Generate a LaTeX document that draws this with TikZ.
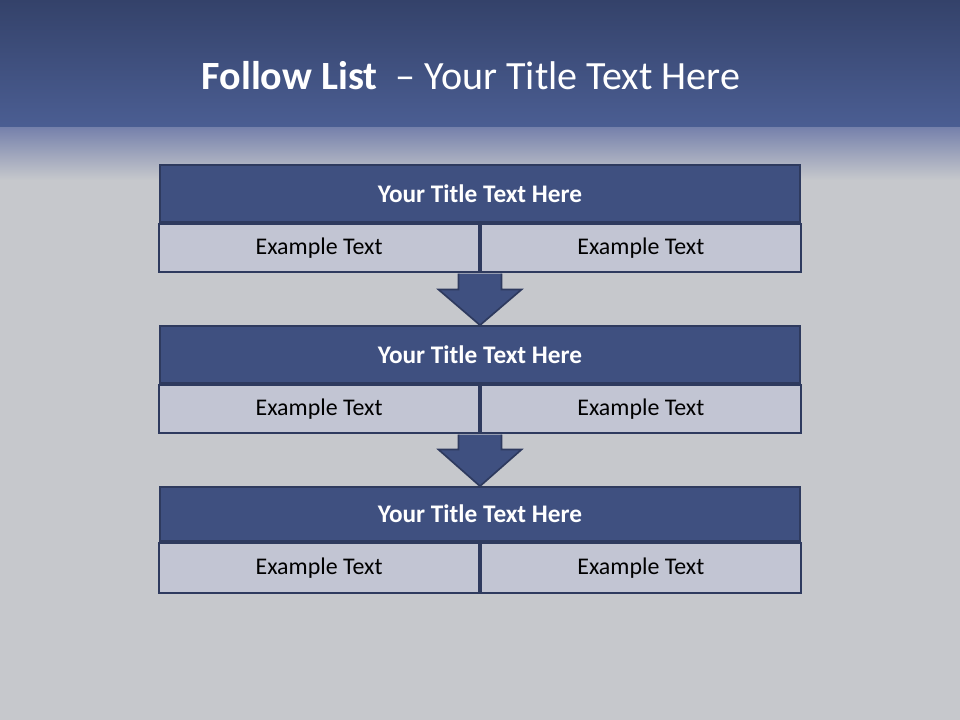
\documentclass[tikz,border=0pt]{standalone}
\usepackage{fontspec}
\setmainfont{Carlito}
\usetikzlibrary{calc}

\definecolor{hdtop}{HTML}{34426A}
\definecolor{hdmid}{HTML}{4B5E93}
\definecolor{hdfade}{HTML}{7782AC}
\definecolor{bggray}{HTML}{C6C8CC}
\definecolor{bandblue}{HTML}{3F5080}
\definecolor{celllight}{HTML}{C2C5D3}
\definecolor{edgedark}{HTML}{2E3A5E}

\begin{document}
\begin{tikzpicture}[
    x=0.025cm,y=-0.025cm,
    band/.style={
        rectangle,
        draw=edgedark,
        fill=bandblue,
        line width=1.2pt,
        minimum width=16cm,
        inner sep=0pt,
        text=white,
        font=\fontsize{18}{22}\selectfont\bfseries
    },
    cell/.style={
        rectangle,
        draw=edgedark,
        fill=celllight,
        line width=1.2pt,
        minimum width=8cm,
        inner sep=0pt,
        text=black,
        font=\fontsize{17}{20}\selectfont
    },
    downarrow/.style={
        draw=edgedark,
        fill=bandblue,
        line width=1.2pt,
        line join=miter
    }
]

\useasboundingbox (0,0) rectangle (960,720);

% background
\fill[bggray] (0,0) rectangle (960,720);
\shade[top color=hdtop,bottom color=hdmid] (0,0) rectangle (960,128);
\shade[top color=hdfade,bottom color=bggray] (0,128) rectangle (960,180);

\node[text=white,font=\fontsize{28.5}{32}\selectfont] (head) at (471,76)
    {\textbf{Follow List}\ \ -- Your Title Text Here};

% first block
\node[band,minimum height=1.425cm] (h1) at (480,193.5) {Your Title Text Here};
\node[cell,minimum height=1.2cm,anchor=north east] (l1) at (h1.south) {Example Text};
\node[cell,minimum height=1.2cm,anchor=north west] (r1) at (h1.south) {Example Text};

% second block
\node[band,minimum height=1.425cm] (h2) at (480,354.5) {Your Title Text Here};
\node[cell,minimum height=1.2cm,anchor=north east] (l2) at (h2.south) {Example Text};
\node[cell,minimum height=1.2cm,anchor=north west] (r2) at (h2.south) {Example Text};

% third block
\node[band,minimum height=1.35cm] (h3) at (480,514) {Your Title Text Here};
\node[cell,minimum height=1.25cm,anchor=north east] (l3) at (h3.south) {Example Text};
\node[cell,minimum height=1.25cm,anchor=north west] (r3) at (h3.south) {Example Text};

% arrows
\draw[downarrow] ($(l1.south east)+(-21.5,1)$) -- ($(l1.south east)+(-21.5,17)$)
    -- ($(l1.south east)+(-41.5,17)$) -- (h2.north)
    -- ($(l1.south east)+(41.5,17)$) -- ($(l1.south east)+(21.5,17)$)
    -- ($(l1.south east)+(21.5,1)$);
\draw[downarrow] ($(l2.south east)+(-21.5,1)$) -- ($(l2.south east)+(-21.5,16)$)
    -- ($(l2.south east)+(-41.5,16)$) -- (h3.north)
    -- ($(l2.south east)+(41.5,16)$) -- ($(l2.south east)+(21.5,16)$)
    -- ($(l2.south east)+(21.5,1)$);

\end{tikzpicture}
\end{document}
